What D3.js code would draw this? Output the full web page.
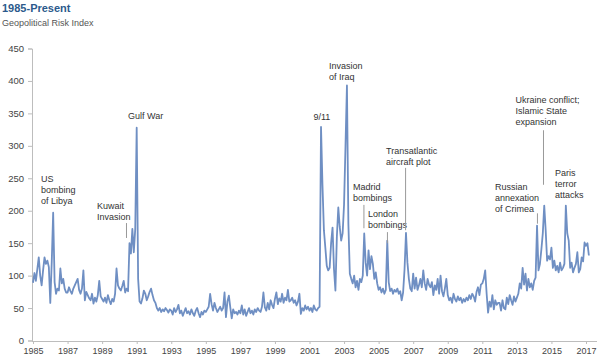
<!DOCTYPE html>
<html><head><meta charset="utf-8">
<script src="https://cdn.jsdelivr.net/npm/d3@7"></script>
<style>
body{margin:0;background:#fff;}
svg{display:block;font-family:"Liberation Sans",Arial,sans-serif;}
</style>
</head><body>
<svg id="chart" width="600" height="364"></svg>
<script>
// ---- Data (monthly Geopolitical Risk Index) ----
const startYear = 1985;
const gpr1985_1994 = [
  89,104,92,110,128,100,85,108,128,118,123,113,   // 1985
  58,120,197,90,72,80,77,111,88,95,80,74,         // 1986
  74,82,76,72,80,85,90,95,78,72,80,108,           // 1987
  62,75,70,65,62,72,57,66,60,70,92,68,            // 1988
  64,60,66,58,70,62,56,64,60,72,111,85,           // 1989
  80,77,84,92,74,80,76,150,134,172,136,172,       // 1990
  328,95,60,57,65,77,72,62,68,75,80,70,           // 1991
  62,58,50,46,50,44,48,45,50,47,43,48,            // 1992
  46,40,50,44,48,55,42,46,38,44,50,42,            // 1993
  45,40,48,42,38,46,50,42,36,44,40,46             // 1994
];
const gpr1995_2004 = [
  44,48,52,72,56,46,58,50,44,48,52,46,            // 1995
  50,74,36,60,69,51,34,48,42,44,40,46,            // 1996
  42,54,40,48,38,44,50,42,46,40,48,44,            // 1997
  50,46,44,52,74,51,46,58,48,62,55,50,            // 1998
  64,74,56,65,60,72,58,66,62,78,60,62,            // 1999
  66,58,62,54,60,72,41,50,46,54,48,52,            // 2000
  46,50,44,54,48,46,50,52,329,240,170,143,        // 2001
  115,108,112,150,174,110,77,160,205,175,154,165, // 2002
  210,300,393,180,103,95,88,100,82,92,78,95,      // 2003
  90,100,165,120,100,139,110,130,118,95,105,88    // 2004
];
const gpr2005_2017 = [
  78,82,74,80,72,78,154,90,76,80,72,78,           // 2005
  75,80,72,76,62,74,110,166,120,95,80,76,         // 2006
  103,80,97,78,85,95,82,108,88,78,95,86,          // 2007
  82,90,70,85,78,95,72,100,76,68,80,95,           // 2008
  70,62,66,58,72,64,60,68,62,66,58,64,            // 2009
  60,66,62,70,64,72,68,60,75,82,70,86,            // 2010
  88,95,108,72,43,60,52,70,48,62,55,58,           // 2011
  58,46,62,50,48,66,56,70,62,55,68,60,            // 2012
  66,72,88,80,112,86,103,77,95,82,88,78,          // 2013
  92,97,177,108,118,140,165,208,170,123,130,125,  // 2014
  143,112,123,108,115,105,120,108,112,118,208,165,// 2015
  154,112,120,105,112,118,136,105,110,128,122,151,// 2016
  146,150,131                                     // 2017
];
const xTickYears = [1985,1987,1989,1991,1993,1995,1997,1999,2001,2003,2005,2007,2009,2011,2013,2015,2017];
const yTickValues = [0,50,100,150,200,250,300,350,400,450];
const titleText = "1985-Present";
const subtitleText = "Geopolitical Risk Index";

// annotations: text lines, anchored in data units (year, index value)
const annotations = [
  {lines:["US","bombing","of Libya"], year:1985.46, value:249},
  {lines:["Kuwait","Invasion"], year:1988.70, value:207, leader:{year:1990.41, from:181, to:158}},
  {lines:["Gulf War"], year:1990.50, value:346},
  {lines:["9/11"], year:2001.72, value:344, anchor:"middle"},
  {lines:["Invasion","of Iraq"], year:2002.13, value:423},
  {lines:["Madrid","bombings"], year:2003.52, value:237, leader:{year:2004.15, from:209, to:173}},
  {lines:["London","bombings"], year:2004.39, value:195, leader:{year:2005.51, from:167, to:150}},
  {lines:["Transatlantic","aircraft plot"], year:2005.43, value:292, leader:{year:2006.56, from:266, to:170}},
  {lines:["Russian","annexation","of Crimea"], year:2011.73, value:237, leader:{year:2014.19, from:196, to:180}},
  {lines:["Ukraine conflict;","Islamic State","expansion"], year:2012.92, value:371, leader:{year:2014.54, from:324, to:240}},
  {lines:["Paris","terror","attacks"], year:2015.21, value:258}
];

// ---- Build series ----
const values = gpr1985_1994.concat(gpr1995_2004, gpr2005_2017);
const series = values.map((v, i) => ({t: startYear + i / 12, v}));

const svg = d3.select("#chart");
const x = d3.scaleLinear().domain([1985, 2017]).range([33, 586]);
const y = d3.scaleLinear().domain([0, 450]).range([340.5, 48.5]);

// Title
svg.append("text").attr("x", 2).attr("y", 12)
  .attr("font-size", 11).attr("font-weight", "bold").attr("fill", "#2c5a8c")
  .text(titleText);
svg.append("text").attr("x", 2).attr("y", 26)
  .attr("font-size", 9).attr("fill", "#555")
  .text(subtitleText);

// Y axis
const yAxis = d3.axisLeft(y).tickValues(yTickValues).tickSize(4).tickPadding(4);
const gy = svg.append("g").attr("transform", "translate(32,0)").call(yAxis);
gy.select(".domain").attr("stroke", "#bdbdbd");
gy.selectAll(".tick line").attr("stroke", "#bdbdbd");
gy.selectAll(".tick text").attr("font-size", 9.5).attr("fill", "#444")
  .attr("font-family", '"Liberation Sans",Arial,sans-serif');

// X axis
const xAxis = d3.axisBottom(x).tickValues(xTickYears).tickFormat(d3.format("d")).tickSize(3).tickPadding(4).tickSizeOuter(0);
const gx = svg.append("g").attr("transform", "translate(0,341)").call(xAxis);
gx.select(".domain").attr("stroke", "#bdbdbd").attr("d", "M32,0.5H597");
gx.selectAll(".tick line").attr("stroke", "#bdbdbd");
gx.selectAll(".tick text").attr("font-size", 9).attr("fill", "#444")
  .attr("font-family", '"Liberation Sans",Arial,sans-serif');

// Line
const line = d3.line().x(d => x(d.t)).y(d => y(d.v)).curve(d3.curveLinear);
svg.append("path").datum(series)
  .attr("fill", "none").attr("stroke", "#6f8fc3").attr("stroke-width", 1.8)
  .attr("stroke-linejoin", "round")
  .attr("d", line);

// Annotations
const lineH = 11;
annotations.forEach(a => {
  const t = svg.append("text")
    .attr("font-size", 9).attr("fill", "#333")
    .attr("text-anchor", a.anchor || "start");
  a.lines.forEach((s, i) => {
    t.append("tspan").attr("x", x(a.year)).attr("y", y(a.value) + i * lineH)
      .attr("dominant-baseline", "central").text(s);
  });
  if (a.leader) {
    svg.append("line")
      .attr("x1", x(a.leader.year)).attr("x2", x(a.leader.year))
      .attr("y1", y(a.leader.from)).attr("y2", y(a.leader.to))
      .attr("stroke", "#999").attr("stroke-width", 1);
  }
});
</script>
</body></html>
